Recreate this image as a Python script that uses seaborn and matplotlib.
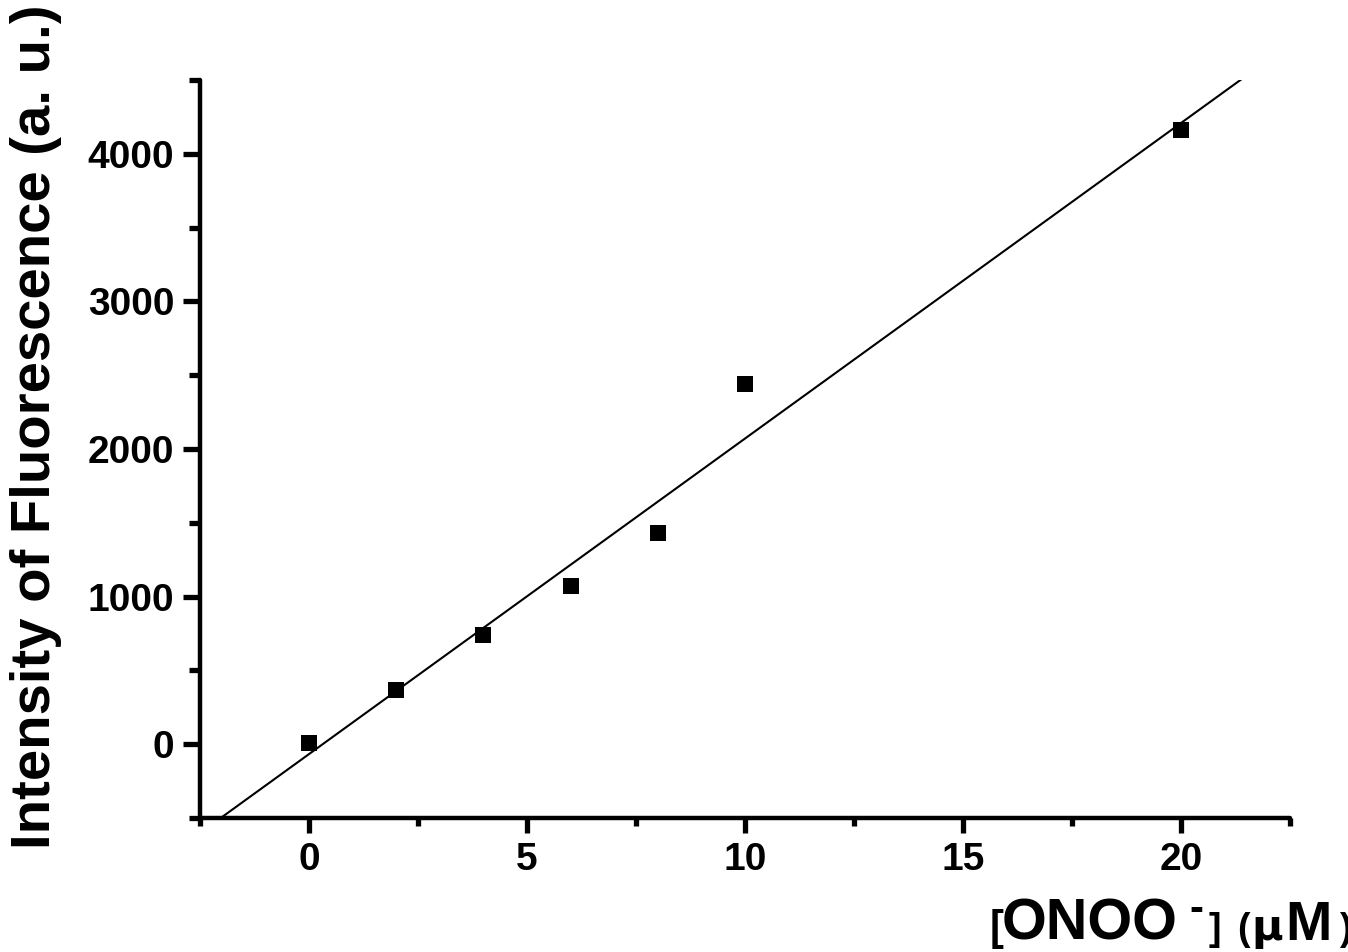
import matplotlib
matplotlib.use("Agg")
import matplotlib.pyplot as plt
from matplotlib.ticker import MultipleLocator
import seaborn as sns

# ONOO- concentration (uM) vs fluorescence intensity (a.u.)
conc = [0, 2, 4, 6, 8, 10, 20]
intensity = [9, 368, 740, 1074, 1428, 2439, 4162]

x_ticks = [0, 5, 10, 15, 20]
y_ticks = [0, 1000, 2000, 3000, 4000]

sns.set_theme(style="ticks")
plt.rcParams['font.family'] = ['Liberation Sans', 'DejaVu Sans']
plt.rcParams['font.weight'] = 'bold'

W, H = 1348, 952
fig = plt.figure(figsize=(W / 100, H / 100), dpi=100)
ax = fig.add_axes([200 / W, 1 - 818 / H, 1090 / W, 738 / H])
ax.set_xlim(-2.5, 22.5)
ax.set_ylim(-500, 4500)

sns.regplot(x=conc, y=intensity, ax=ax, scatter=False, ci=None, truncate=False,
            line_kws=dict(color='black', lw=1.5))
sns.scatterplot(x=conc, y=intensity, ax=ax, marker='s', s=135, color='black',
                linewidth=0, zorder=3)

ax.set_xlim(-2.5, 22.5)
ax.set_ylim(-500, 4500)
ax.set_xticks(x_ticks)
ax.set_yticks(y_ticks)
ax.xaxis.set_minor_locator(MultipleLocator(2.5))
ax.yaxis.set_minor_locator(MultipleLocator(500))
ax.set_xlabel('')
ax.set_ylabel('')

sns.despine(ax=ax)
for side in ['left', 'bottom']:
    ax.spines[side].set_linewidth(3.2)
    ax.spines[side].set_color('black')
    ax.spines[side].set_capstyle('round')

ax.tick_params(axis='x', which='major', length=11, width=3.8, pad=6, labelsize=28, colors='black')
ax.tick_params(axis='x', which='minor', length=5.5, width=3.8, colors='black')
ax.tick_params(axis='y', which='major', length=12.5, width=3.8, pad=6, labelsize=28, colors='black')
ax.tick_params(axis='y', which='minor', length=8, width=3.8, colors='black')
for lab in ax.get_xticklabels() + ax.get_yticklabels():
    lab.set_fontweight('bold')

# y axis title
fig.text(50 / W, 1 - 849 / H, 'Intensity of Fluorescence (a. u.)', rotation=90,
         rotation_mode='anchor', ha='left', va='baseline', fontsize=40.5,
         fontweight='bold', color='black')

# x axis title, built from pieces of different size like the original
base = 1 - 940 / H
pieces = [
    ('[', 990, 30, 0, 'Liberation Sans', 'bold'),
    ('ONOO', 1002, 41.5, 0, 'Liberation Sans', 'bold'),
    ('-', 1189, 30, 19, 'Liberation Sans', 'bold'),
    (']', 1209, 27, 0, 'Liberation Sans', 'bold'),
    ('(', 1237, 27, 0, 'Liberation Sans', 'bold'),
    ('\u03bc', 1251, 31, 0, 'DejaVu Sans', 'bold'),
    ('M', 1285, 40, 0, 'Liberation Sans', 'bold'),
    (')', 1339, 27, 0, 'Liberation Sans', 'bold'),
]
for txt, px, size, dy, fam, wt in pieces:
    fig.text(px / W, base + dy / H, txt, ha='left', va='baseline', fontsize=size,
             fontweight=wt, family=fam, color='black')

fig.savefig('out.png', dpi=100, facecolor='white')
